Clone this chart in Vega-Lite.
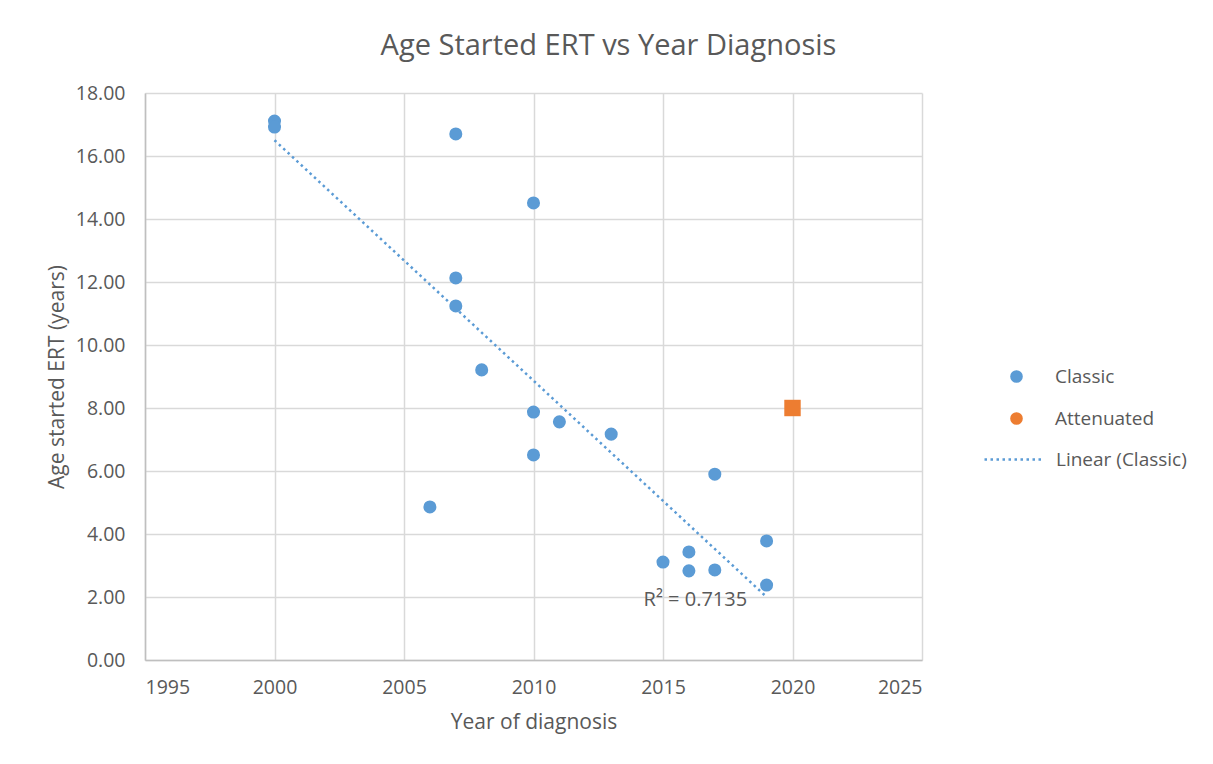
{
  "$schema": "https://vega.github.io/schema/vega-lite/v6.json",
  "width": 777,
  "height": 567,
  "autosize": {"type": "none"},
  "padding": {"left": 145, "top": 93, "right": 291, "bottom": 104},
  "background": "white",
  "config": {
    "font": "Open Sans",
    "view": {"stroke": null},
    "axis": {
      "labelColor": "#595959",
      "titleColor": "#595959",
      "labelFont": "Open Sans",
      "titleFont": "Open Sans",
      "labelFontSize": 19.5,
      "titleFontSize": 21,
      "titleFontWeight": "normal",
      "gridColor": "#D9D9D9",
      "gridWidth": 1.5,
      "domainColor": "#BFBFBF",
      "domainWidth": 1.5,
      "ticks": false
    },
    "legend": {
      "labelColor": "#595959",
      "labelFont": "Open Sans",
      "labelFontSize": 19
    }
  },
  "title": {
    "text": "Age Started ERT vs Year Diagnosis",
    "fontSize": 29,
    "fontWeight": "normal",
    "color": "#595959",
    "font": "Open Sans",
    "anchor": "middle",
    "dx": 75,
    "offset": 22
  },
  "data": {
    "values": [
      {"type": "Classic", "year": 2000, "age": 17.11},
      {"type": "Classic", "year": 2000, "age": 16.92},
      {"type": "Classic", "year": 2007, "age": 16.70},
      {"type": "Classic", "year": 2010, "age": 14.51},
      {"type": "Classic", "year": 2007, "age": 12.13},
      {"type": "Classic", "year": 2007, "age": 11.24},
      {"type": "Classic", "year": 2008, "age": 9.21},
      {"type": "Classic", "year": 2010, "age": 7.87},
      {"type": "Classic", "year": 2011, "age": 7.56},
      {"type": "Classic", "year": 2013, "age": 7.17},
      {"type": "Classic", "year": 2010, "age": 6.51},
      {"type": "Classic", "year": 2006, "age": 4.86},
      {"type": "Classic", "year": 2017, "age": 5.90},
      {"type": "Classic", "year": 2019, "age": 3.78},
      {"type": "Classic", "year": 2016, "age": 3.43},
      {"type": "Classic", "year": 2015, "age": 3.11},
      {"type": "Classic", "year": 2016, "age": 2.83},
      {"type": "Classic", "year": 2017, "age": 2.86},
      {"type": "Classic", "year": 2019, "age": 2.38},
      {"type": "Attenuated", "year": 2020, "age": 8.0},
      {"type": "Linear (Classic)", "year": 2000, "age": 16.5},
      {"type": "Linear (Classic)", "year": 2019, "age": 2.0},
      {"type": "R2", "year": 2016.25, "age": 1.9, "label": "R² = 0.7135"}
    ]
  },
  "encoding": {
    "x": {
      "field": "year",
      "type": "quantitative",
      "scale": {"domain": [1995, 2025], "nice": false, "zero": false},
      "axis": {
        "values": [1995, 2000, 2005, 2010, 2015, 2020, 2025],
        "format": "d",
        "title": "Year of diagnosis",
        "labelPadding": 18,
        "titlePadding": 15
      }
    },
    "y": {
      "field": "age",
      "type": "quantitative",
      "scale": {"domain": [0, 18], "nice": false},
      "axis": {
        "values": [0, 2, 4, 6, 8, 10, 12, 14, 16, 18],
        "format": ".2f",
        "title": "Age started ERT (years)",
        "labelPadding": 20,
        "titlePadding": 8
      }
    }
  },
  "layer": [
    {
      "transform": [{"filter": "datum.type === 'Linear (Classic)'"}],
      "mark": {"type": "line", "color": "#5B9BD5", "strokeWidth": 2.5},
      "encoding": {
        "strokeDash": {
          "field": "type",
          "type": "nominal",
          "scale": {"domain": ["Linear (Classic)"], "range": [[2.5, 3.5]]},
          "legend": {
            "title": null,
            "orient": "none",
            "legendX": 838,
            "legendY": 335,
            "padding": 0,
            "symbolType": "stroke",
            "symbolSize": 3600,
            "symbolStrokeWidth": 2.5,
            "symbolStrokeColor": "#5B9BD5",
            "labelOffset": 10
          }
        }
      }
    },
    {
      "transform": [{"filter": "datum.type === 'Classic'"}],
      "mark": {"type": "point", "shape": "circle", "filled": true, "size": 170, "opacity": 1},
      "encoding": {
        "color": {
          "field": "type",
          "type": "nominal",
          "scale": {"domain": ["Classic", "Attenuated"], "range": ["#5B9BD5", "#ED7D31"]},
          "legend": {
            "title": null,
            "orient": "none",
            "legendX": 862,
            "legendY": 274,
            "padding": 0,
            "symbolType": "circle",
            "symbolSize": 160,
            "symbolOpacity": 1,
            "rowPadding": 22,
            "labelOffset": 29
          }
        }
      }
    },
    {
      "transform": [{"filter": "datum.type === 'Attenuated'"}],
      "mark": {"type": "point", "shape": "square", "filled": true, "size": 270, "opacity": 1},
      "encoding": {
        "color": {"field": "type", "type": "nominal"}
      }
    },
    {
      "transform": [{"filter": "datum.type === 'R2'"}],
      "mark": {"type": "text", "fontSize": 20, "color": "#595959", "align": "center", "baseline": "middle", "font": "Open Sans"},
      "encoding": {
        "text": {"field": "label", "type": "nominal"}
      }
    }
  ]
}
